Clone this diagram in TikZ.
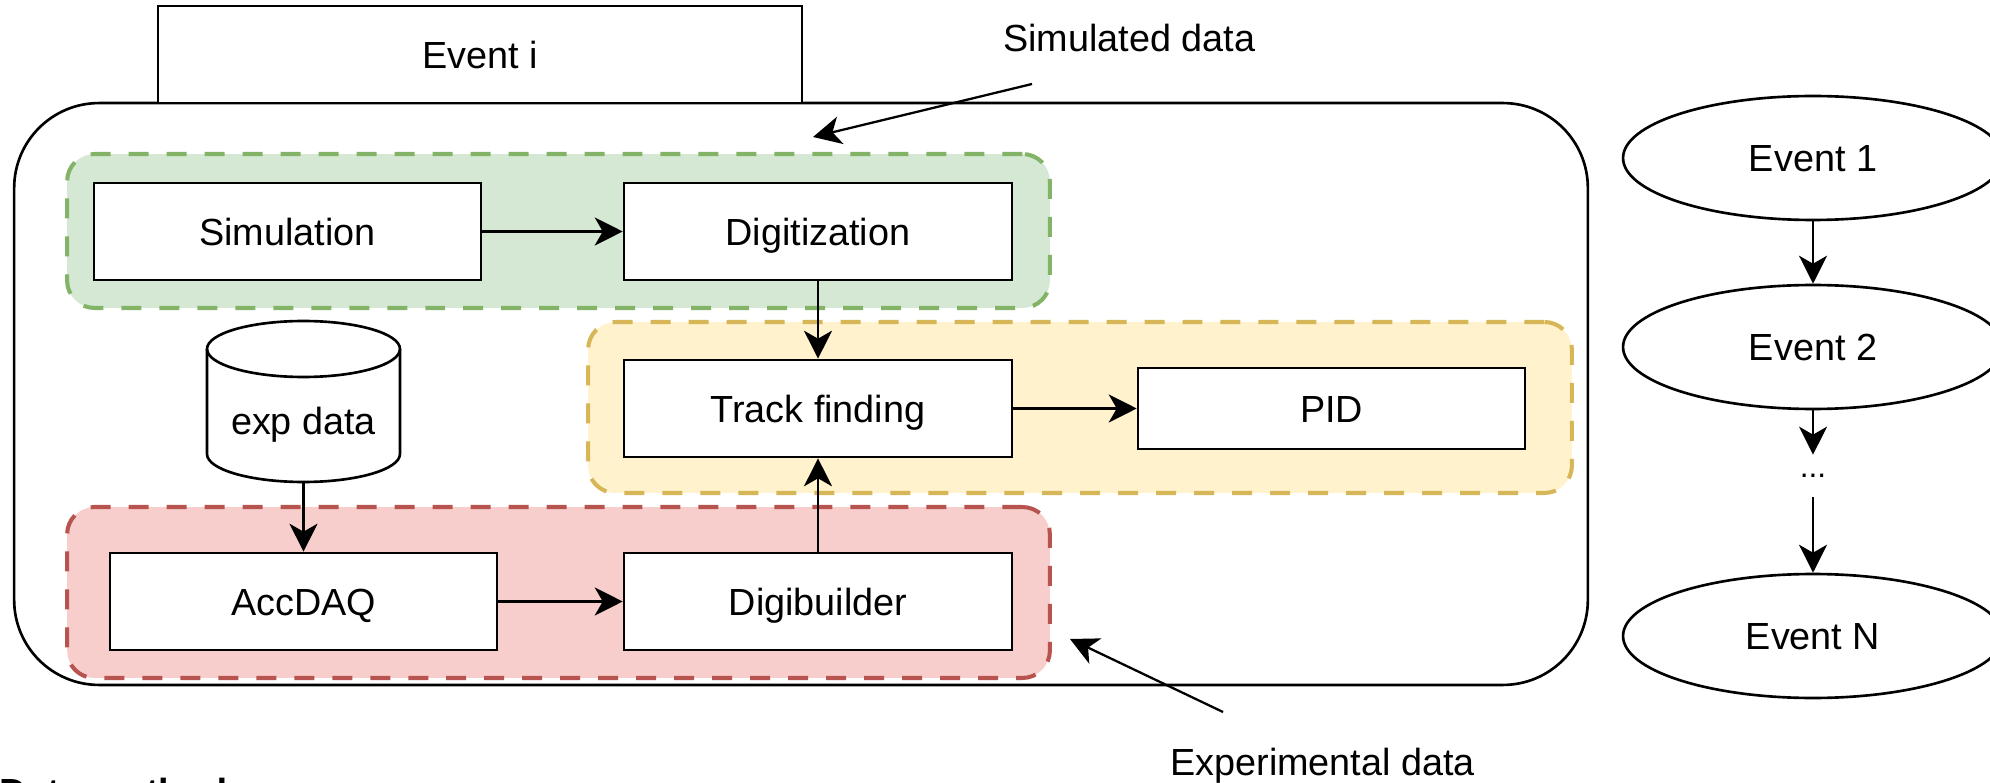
\documentclass[tikz,border=0pt]{standalone}
\usepackage{fontspec}
\setmainfont{Liberation Sans}
\usetikzlibrary{arrows.meta,calc,shapes.geometric}
\definecolor{gfill}{HTML}{D5E8D4}\definecolor{gline}{HTML}{82B366}
\definecolor{yfill}{HTML}{FFF2CC}\definecolor{yline}{HTML}{D6B656}
\definecolor{rfill}{HTML}{F8CECC}\definecolor{rline}{HTML}{B85450}
\begin{document}
\begin{tikzpicture}[x=0.02cm,y=-0.02cm,
  every node/.style={font=\fontsize{21.5}{26}\selectfont},
  box/.style={draw, fill=white, line width=1.5pt, minimum width=7.74cm, minimum height=1.94cm, inner sep=0pt, text height=15.4pt, text depth=0pt},
  ell/.style={draw, ellipse, fill=white, line width=1.5pt, minimum width=7.6cm, minimum height=2.48cm, inner sep=0pt, text height=15.4pt, text depth=0pt},
  grp/.style={line width=2.3pt, dash pattern=on 0.4cm off 0.36cm, rounded corners=0.55cm, inner sep=0pt},
  conn/.style={line width=1.3pt, -{Stealth[length=0.56cm,width=0.56cm,inset=0.16cm]}},
  container/.style={draw, line width=1.5pt, rounded corners=1.7cm, inner sep=0pt},
  lab/.style={anchor=base west, inner sep=0pt},
]
\useasboundingbox (0,0) rectangle (1990,783);
\clip (0,0) rectangle (1990,783);

% container and event box
\node[container, minimum width=31.48cm, minimum height=11.64cm] (outer) at (801,394) {};
\node[box, minimum width=12.88cm] (eventi) at (480,54.5) {Event i};

% groups
\node[grp, fill=gfill, draw=gline, minimum width=19.66cm, minimum height=3.08cm] (green) at (558.5,231) {};
\node[grp, fill=yfill, draw=yline, minimum width=19.68cm, minimum height=3.42cm] (yellow) at (1080,407.5) {};
\node[grp, fill=rfill, draw=rline, minimum width=19.66cm, minimum height=3.42cm] (red) at (558.5,592.5) {};

% process boxes
\node[box] (sim) at (287.5,231.5) {Simulation};
\node[box, minimum width=7.76cm] (dig) at (818,231.5) {Digitization};
\node[box, minimum width=7.76cm] (tf) at (818,408.5) {Track finding};
\node[box, minimum height=1.62cm] (pid) at (1331.5,408.5) {PID};
\node[box] (acc) at (303.5,601.5) {AccDAQ};
\node[box, minimum width=7.76cm] (digb) at (818,601.5) {Digibuilder};

% cylinder
\draw[line width=1.5pt] (207,349) -- (207,454) arc[start angle=180, end angle=360, x radius=1.93cm, y radius=0.56cm] -- (400,349);
\draw[line width=1.5pt] (303.5,349) ellipse [x radius=1.93cm, y radius=0.56cm];
\node[inner sep=0pt, minimum width=3.86cm, minimum height=2.28cm] (exp) at (303.5,425) {exp data};

% connectors
\draw[conn] (sim.east) -- (dig.west);
\draw[conn] (dig.south) -- (tf.north);
\draw[conn] (digb.north) -- (tf.south);
\draw[conn] (acc.east) -- (digb.west);
\draw[conn] (tf.east) -- (tf.east -| pid.west);
\draw[conn] (exp.south) -- (acc.north);

% annotations
\node[lab] (simlab) at (1003,52) {Simulated data};
\coordinate (simtail) at (1032,84);
\coordinate (simtip) at (813,137);
\draw[conn] (simtail) -- (simtip);
\node[lab] (explab) at (1170,775) {Experimental data};
\coordinate (exptail) at (1223,712);
\coordinate (exptip) at (1070,639);
\draw[conn] (exptail) -- (exptip);

% event chain
\node[ell] (e1) at (1813,158) {Event 1};
\node[ell] (e2) at (1813,347) {Event 2};
\node[inner sep=0pt, minimum height=0.84cm, font=\fontsize{18}{20}\selectfont] (dots) at (1813,476) {...};
\node[ell] (eN) at (1813,636) {Event N};
\draw[conn] (e1.south) -- (e2.north);
\draw[conn] (e2.south) -- (dots.north);
\draw[conn] (dots.south) -- (eN.north);

% cut-off caption at the bottom edge
\node[lab, font=\fontsize{21.5}{26}\selectfont\bfseries] (cut) at (-1,805) {Data method};
\end{tikzpicture}
\end{document}
